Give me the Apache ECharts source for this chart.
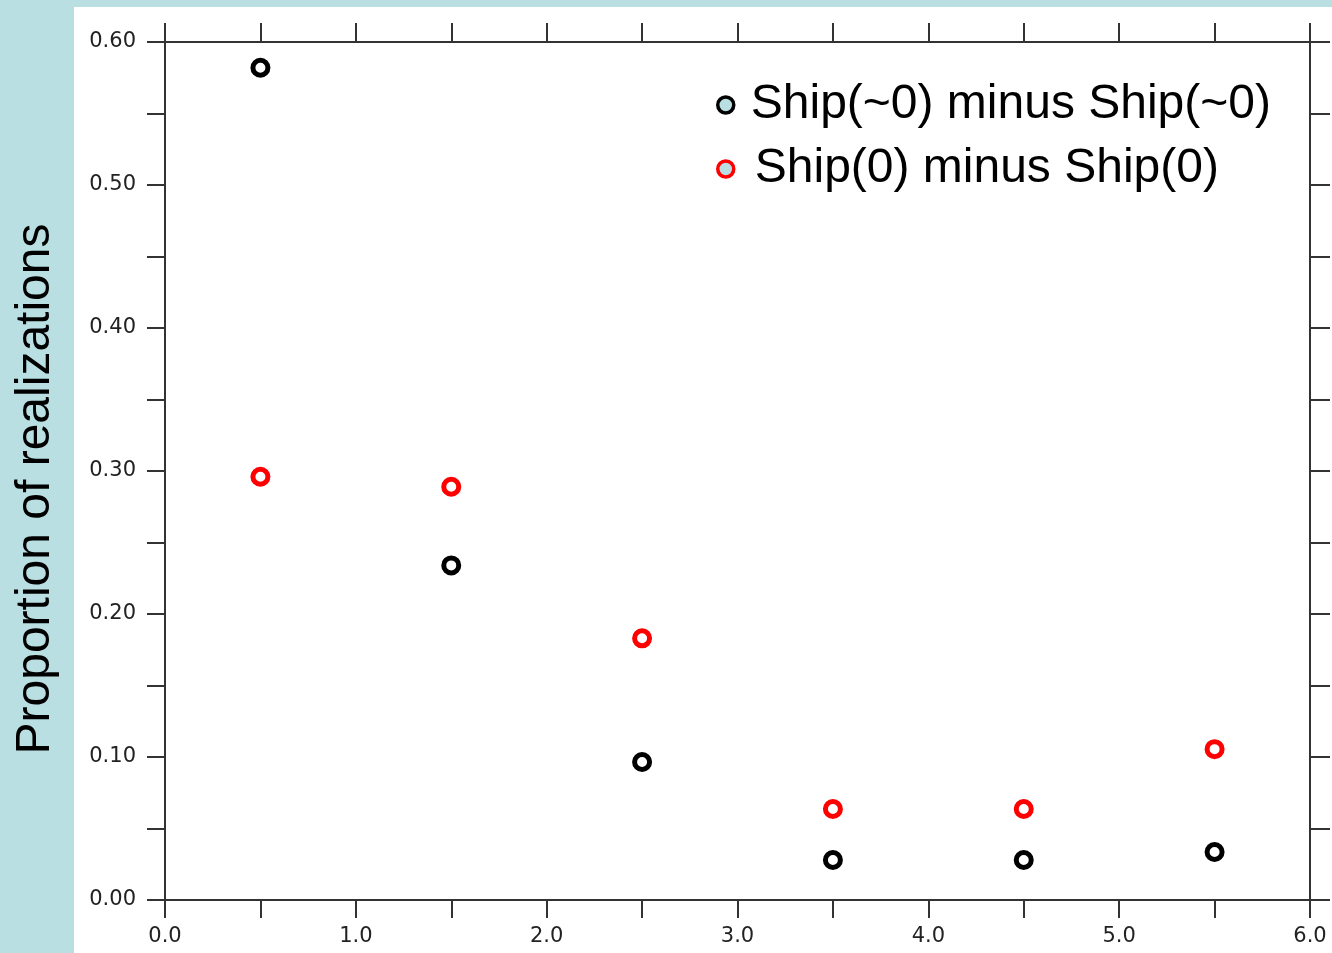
<!DOCTYPE html>
<html>
<head>
<meta charset="utf-8">
<title>Proportion of realizations</title>
<script src="https://cdn.jsdelivr.net/npm/echarts@6/dist/echarts.min.js"></script>
<style>
  html, body { margin: 0; padding: 0; background: #b9dfe2; }
  #chart { width: 1332px; height: 953px; }
</style>
</head>
<body>
<div id="chart"></div>
<script>
// Bin centres along the horizontal axis
const binCentres = [0.5, 1.5, 2.5, 3.5, 4.5, 5.5];

// Proportion of realizations in each bin
const shipApproxZero = [0.582, 0.234, 0.0965, 0.028, 0.028, 0.0336];
const shipZero = [0.296, 0.289, 0.183, 0.0636, 0.0636, 0.1055];

const seriesNames = ['Ship(~0) minus Ship(~0)', 'Ship(0) minus Ship(0)'];
const yAxisTitle = 'Proportion of realizations';

const pairs = (xs, ys) => xs.map((x, i) => [x, ys[i]]);

// Frame axes stay on the plot edges instead of snapping to zero
const axisLine = { show: true, onZero: false, lineStyle: { color: '#333', width: 2 } };
const tickStyle = { color: '#333', width: 2 };
const labelFont = { fontFamily: 'DejaVu Sans', fontSize: 21, color: '#222' };

const chart = echarts.init(document.getElementById('chart'), null, { renderer: 'canvas' });

chart.setOption({
  backgroundColor: '#b9dfe2',
  animation: false,
  graphic: [{
    type: 'rect',
    z: -10,
    silent: true,
    shape: { x: 74, y: 7, width: 1332 - 74, height: 953 - 7 },
    style: { fill: '#ffffff' }
  }],
  grid: { left: 165, right: 22, top: 42, bottom: 53, containLabel: false },
  legend: {
    orient: 'vertical',
    left: 711,
    top: 75,
    itemWidth: 40,
    itemHeight: 16,
    itemGap: 14,
    icon: 'circle',
    textStyle: { fontFamily: 'Liberation Sans', fontSize: 48, lineHeight: 50, color: '#000' },
    data: [
      { name: seriesNames[0], itemStyle: { color: '#b9dfe2', borderColor: '#000', borderWidth: 3.5 } },
      { name: seriesNames[1], itemStyle: { color: '#b9dfe2', borderColor: '#ff0000', borderWidth: 3.5 },
        textStyle: { padding: [0, 0, 0, 4] } }
    ]
  },
  xAxis: [{
    type: 'value',
    position: 'bottom',
    min: 0, max: 6, interval: 0.5,
    axisLine: axisLine,
    axisTick: { show: true, inside: false, length: 18, lineStyle: tickStyle },
    splitLine: { show: false },
    axisLabel: Object.assign({
      margin: 26,
      formatter: v => (Math.abs(v - Math.round(v)) < 1e-6 ? v.toFixed(1) : '')
    }, labelFont)
  }, {
    type: 'value',
    position: 'top',
    min: 0, max: 6, interval: 0.5,
    axisLine: axisLine,
    axisTick: { show: true, inside: false, length: 19, lineStyle: tickStyle },
    splitLine: { show: false },
    axisLabel: { show: false }
  }],
  yAxis: [{
    type: 'value',
    position: 'left',
    min: 0, max: 0.6, interval: 0.05,
    name: yAxisTitle,
    nameLocation: 'middle',
    nameGap: 105,
    nameTextStyle: { fontFamily: 'Liberation Sans', fontSize: 48, color: '#000', padding: [0, 36, 0, 0] },
    axisLine: axisLine,
    axisTick: { show: true, inside: false, length: 18, lineStyle: tickStyle },
    splitLine: { show: false },
    axisLabel: Object.assign({
      margin: 29,
      formatter: v => {
        const k = Math.round(v * 100);
        return k % 10 === 0 ? (k / 100).toFixed(2) : '';
      }
    }, labelFont)
  }, {
    type: 'value',
    position: 'right',
    min: 0, max: 0.6, interval: 0.05,
    axisLine: axisLine,
    axisTick: { show: true, inside: false, length: 20, lineStyle: tickStyle },
    splitLine: { show: false },
    axisLabel: { show: false }
  }],
  series: [{
    name: seriesNames[0],
    type: 'scatter',
    xAxisIndex: 0, yAxisIndex: 0,
    symbol: 'circle',
    symbolSize: 15,
    itemStyle: { color: '#ffffff', borderColor: '#000000', borderWidth: 5, opacity: 1 },
    data: pairs(binCentres, shipApproxZero)
  }, {
    name: seriesNames[1],
    type: 'scatter',
    xAxisIndex: 0, yAxisIndex: 0,
    symbol: 'circle',
    symbolSize: 15,
    itemStyle: { color: '#ffffff', borderColor: '#ff0000', borderWidth: 5, opacity: 1 },
    data: pairs(binCentres, shipZero)
  }]
});
</script>
</body>
</html>
